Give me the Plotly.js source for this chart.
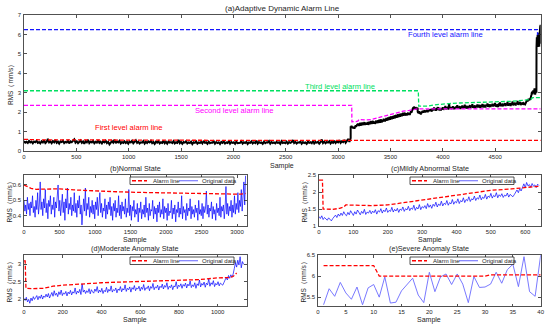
<!DOCTYPE html>
<html>
<head>
<meta charset="utf-8">
<script src="https://cdn.plot.ly/plotly-3.0.1.min.js"></script>
<style>html,body{margin:0;padding:0;background:#fff;}#chart{width:550px;height:331px;}</style>
</head>
<body>
<div id="chart"></div>
<script>
// ---------------- DATA ----------------
// (b) Normal State: RMS, one reading every 12 samples, samples 0..3120
const bStep = 12;
const bRMS = [
0.50,0.43,0.47,0.41,0.52,0.44,0.48,0.40,0.49,0.45,0.53,0.42,0.46,0.39,0.50,0.44,0.55,0.41,0.47,0.62,
0.44,0.49,0.40,0.51,0.45,0.57,0.42,0.48,0.38,0.50,0.46,0.53,0.41,0.47,0.44,0.52,0.39,0.49,0.45,0.56,
0.60,0.43,0.50,0.40,0.47,0.54,0.42,0.49,0.37,0.51,0.45,0.58,0.41,0.48,0.44,0.52,0.40,0.47,0.43,0.55,
0.42,0.48,0.39,0.50,0.45,0.53,0.41,0.47,0.34,0.46,0.51,0.43,0.58,0.40,0.48,0.44,0.52,0.39,0.46,0.42,
0.50,0.41,0.47,0.38,0.49,0.44,0.52,0.40,0.46,0.55,0.42,0.48,0.39,0.45,0.43,0.51,0.38,0.47,0.41,0.49,
0.44,0.52,0.40,0.46,0.37,0.48,0.43,0.50,0.39,0.45,0.42,0.53,0.40,0.47,0.38,0.49,0.43,0.46,0.41,0.51,
0.39,0.45,0.42,0.57,0.40,0.47,0.37,0.46,0.43,0.50,0.39,0.44,0.41,0.48,0.36,0.45,0.42,0.49,0.38,0.44,
0.41,0.47,0.39,0.52,0.42,0.45,0.37,0.48,0.40,0.44,0.43,0.50,0.38,0.46,0.41,0.45,0.36,0.47,0.42,0.49,
0.39,0.44,0.41,0.51,0.38,0.46,0.42,0.45,0.37,0.48,0.40,0.43,0.42,0.50,0.38,0.45,0.41,0.47,0.36,0.44,
0.42,0.49,0.39,0.45,0.41,0.53,0.38,0.46,0.42,0.44,0.37,0.48,0.40,0.45,0.43,0.51,0.38,0.46,0.41,0.44,
0.39,0.47,0.42,0.45,0.37,0.50,0.41,0.44,0.40,0.48,0.38,0.46,0.42,0.45,0.56,0.41,0.47,0.39,0.45,0.43,
0.49,0.38,0.46,0.41,0.44,0.37,0.48,0.42,0.45,0.40,0.52,0.39,0.46,0.43,0.47,0.38,0.45,0.59,0.41,0.48,
0.40,0.46,0.43,0.50,0.39,0.47,0.42,0.53,0.41,0.48,0.44,0.55,0.42,0.50,0.46,0.57,0.43,0.52,0.62,0.47,0.66
];
const bAlarmSample = [0,20,60,100,170,300,500,700,1000,1300,1600,2000,2300,2600,2900,3050,3120];
const bAlarm       = [0.600,0.595,0.585,0.578,0.572,0.574,0.575,0.568,0.561,0.556,0.552,0.548,0.545,0.541,0.537,0.540,0.545];

// (c) Mildly Abnormal State: one reading every 4 samples, samples 0..640
const cStep = 4;
const cRMS = [
1.28,1.22,1.30,1.19,1.25,1.21,1.17,1.24,1.20,1.15,1.22,1.27,1.32,1.25,1.35,1.29,1.38,1.31,1.42,1.34,
1.30,1.40,1.33,1.45,1.36,1.31,1.42,1.35,1.47,1.38,1.33,1.43,1.37,1.49,1.34,1.41,1.38,1.46,1.36,1.44,
1.39,1.48,1.35,1.45,1.41,1.51,1.38,1.47,1.42,1.53,1.40,1.46,1.43,1.55,1.41,1.49,1.44,1.52,1.40,1.50,
1.46,1.56,1.43,1.51,1.47,1.58,1.45,1.53,1.49,1.61,1.46,1.55,1.50,1.63,1.48,1.57,1.53,1.60,1.51,1.66,
1.55,1.62,1.52,1.64,1.58,1.70,1.56,1.65,1.60,1.73,1.59,1.67,1.63,1.75,1.61,1.69,1.65,1.78,1.64,1.72,
1.68,1.80,1.66,1.75,1.71,1.83,1.69,1.78,1.74,1.86,1.72,1.80,1.77,1.88,1.75,1.83,1.79,1.91,1.77,1.85,
1.81,1.93,1.79,1.88,1.84,1.96,1.82,1.90,1.86,1.98,1.83,1.92,1.87,1.95,1.84,1.91,1.88,1.97,1.85,1.93,
1.90,1.86,1.92,1.99,2.06,1.98,2.10,2.03,2.15,2.24,2.12,2.28,2.18,2.22,2.14,2.25,2.17,2.21,2.13,2.23,2.19
];
const cAlarmSample = [0,10,12,40,60,72,78,150,200,300,400,500,560,600,620,640];
const cAlarm       = [2.35,2.35,1.50,1.49,1.52,1.56,1.62,1.60,1.62,1.77,1.91,2.05,2.09,2.12,2.14,2.17];

// (d) Moderate Anomaly State: one reading every 6 samples, samples 0..1134
const dStep = 6;
const dRMS = [
2.02,1.96,2.05,1.92,1.99,1.88,2.03,1.95,2.07,1.99,2.04,2.10,1.98,2.08,2.02,2.12,2.00,2.09,2.05,2.14,
2.06,2.16,2.03,2.12,2.19,2.08,2.24,2.11,2.17,2.07,2.21,2.13,2.26,2.10,2.18,2.14,2.22,2.09,2.20,2.15,
2.25,2.12,2.21,2.17,2.32,2.14,2.23,2.18,2.28,2.13,2.44,2.20,2.26,2.16,2.24,2.19,2.30,2.15,2.27,2.21,
2.17,2.29,2.22,2.36,2.18,2.26,2.20,2.31,2.16,2.25,2.21,2.34,2.19,2.28,2.23,2.38,2.20,2.27,2.24,2.32,
2.18,2.29,2.25,2.36,2.21,2.30,2.26,2.41,2.22,2.31,2.27,2.35,2.20,2.33,2.28,2.39,2.24,2.32,2.29,2.37,
2.23,2.34,2.28,2.42,2.25,2.33,2.30,2.38,2.24,2.36,2.31,2.45,2.27,2.35,2.32,2.40,2.26,2.37,2.33,2.43,
2.29,2.39,2.34,2.47,2.28,2.37,2.33,2.41,2.27,2.38,2.35,2.50,2.30,2.40,2.36,2.44,2.31,2.42,2.37,2.46,
2.32,2.43,2.38,2.52,2.33,2.41,2.36,2.47,2.31,2.44,2.39,2.55,2.35,2.45,2.40,2.49,2.34,2.46,2.41,2.58,
2.37,2.47,2.42,2.53,2.36,2.45,2.41,2.50,2.38,2.46,2.43,2.40,2.47,2.56,2.62,2.55,2.68,2.60,2.70,2.63,
2.72,2.88,3.05,2.92,3.12,2.98,3.22,2.90,3.08,3.00
];
const dAlarmSample = [0,6,10,40,100,150,200,300,400,500,600,700,800,900,1000,1060,1080,1098];
const dAlarm       = [3.10,3.10,2.31,2.30,2.31,2.37,2.40,2.44,2.47,2.49,2.51,2.52,2.53,2.56,2.61,2.62,2.65,2.75];

// (e) Severe Anomaly State: samples 1..40
const eSample = [1,2,3,4,5,6,7,8,9,10,11,12,13,14,15,16,17,18,19,20,21,22,23,24,25,26,27,28,29,30,31,32,33,34,35,36,37,38,39,40];
const eRMS = [5.32,5.70,5.52,5.85,5.60,5.45,5.74,5.32,5.72,5.80,5.50,5.98,5.36,5.38,5.65,5.81,5.95,5.55,5.37,6.09,
              5.63,5.98,6.05,5.80,6.05,5.81,5.37,5.99,5.73,5.74,5.81,6.09,5.83,6.15,6.28,5.75,6.46,5.63,5.52,6.50];
const eAlarmSample = [1,10,11,30,31,40];
const eAlarm       = [6.25,6.25,6.00,6.00,6.03,6.03];

// (a) segment start samples in the whole record and its end
const segStart = [0, 3120, 3760, 4894];
const recordEnd = 4935;

const levelNames = ['First level alarm line','Second level alarm line','Third level alarm line','Fourth level alarm line'];
const panelTitles = ['(a)Adaptive Dynamic Alarm Line','(b)Normal State','(c)Mildly Abnormal State','(d)Moderate Anomaly State','(e)Severe Anomaly State'];
const xTickVals = {
  a:[0,500,1000,1500,2000,2500,3000,3500,4000,4500],
  b:[0,500,1000,1500,2000,2500,3000],
  c:[0,100,200,300,400,500,600],
  d:[0,200,400,600,800,1000],
  e:[0,5,10,15,20,25,30,35,40]
};
const yTickVals = {
  a:[0,1,2,3,4,5,6,7],
  b:[0.4,0.5,0.6],
  c:[1,1.5,2,2.5],
  d:[2,2.5,3],
  e:[5.5,6,6.5]
};

// ---------------- BUILD ----------------
const W = 550, H = 331;
const px = v => v / W, py = v => 1 - v / H;
const FONT = '"Liberation Sans Narrow", "Liberation Sans", Arial, sans-serif';
const AX = '#262626';

const idx = (n, step) => Array.from({length:n}, (_, i) => i * step);
const bX = idx(bRMS.length, bStep), cX = idx(cRMS.length, cStep), dX = idx(dRMS.length, dStep);

const shift = (arr, o) => arr.map(v => v + o);
const aX = [].concat(bX, shift(cX, segStart[1]), shift(dX, segStart[2]), shift(eSample, segStart[3]));
const aY = [].concat(bRMS, cRMS, dRMS, eRMS);

function levelLine(sam, val, off) {
  const x = [], y = [];
  if (off > 0) { x.push(0); y.push(val[0]); }
  sam.forEach((s, i) => { x.push(s + off); y.push(val[i]); });
  x.push(recordEnd); y.push(val[val.length - 1]);
  return {x, y};
}
const RED = '#FF0000', MAG = '#FF00FF', GRN = '#00E060', BLU = '#1414FF', DBLUE = '#0000FF';
const L1 = levelLine(bAlarmSample, bAlarm, segStart[0]);
const L2 = levelLine(cAlarmSample, cAlarm, segStart[1]);
const L3 = levelLine(dAlarmSample, dAlarm, segStart[2]);
const L4 = levelLine(eAlarmSample, eAlarm, segStart[3]);

const dash = '4px,2px';
const traces = [
  {x:aX, y:aY, xaxis:'x', yaxis:'y', mode:'lines', line:{color:'#000', width:2}},
  {x:L1.x, y:L1.y, xaxis:'x', yaxis:'y', mode:'lines', line:{color:RED, width:1.3, dash:dash}},
  {x:L2.x, y:L2.y, xaxis:'x', yaxis:'y', mode:'lines', line:{color:MAG, width:1.3, dash:dash}},
  {x:L3.x, y:L3.y, xaxis:'x', yaxis:'y', mode:'lines', line:{color:GRN, width:1.3, dash:dash}},
  {x:L4.x, y:L4.y, xaxis:'x', yaxis:'y', mode:'lines', line:{color:BLU, width:1.3, dash:dash}},

  {x:bX, y:bRMS, xaxis:'x2', yaxis:'y2', mode:'lines', line:{color:DBLUE, width:0.7}},
  {x:bAlarmSample, y:bAlarm, xaxis:'x2', yaxis:'y2', mode:'lines', line:{color:RED, width:1.3, dash:dash}},
  {x:cX, y:cRMS, xaxis:'x3', yaxis:'y3', mode:'lines', line:{color:DBLUE, width:0.7}},
  {x:cAlarmSample, y:cAlarm, xaxis:'x3', yaxis:'y3', mode:'lines', line:{color:RED, width:1.3, dash:dash}},
  {x:dX, y:dRMS, xaxis:'x4', yaxis:'y4', mode:'lines', line:{color:DBLUE, width:0.7}},
  {x:dAlarmSample, y:dAlarm, xaxis:'x4', yaxis:'y4', mode:'lines', line:{color:RED, width:1.3, dash:dash}},
  {x:eSample, y:eRMS, xaxis:'x5', yaxis:'y5', mode:'lines', line:{color:'#6A6AFF', width:0.9}},
  {x:eAlarmSample, y:eAlarm, xaxis:'x5', yaxis:'y5', mode:'lines', line:{color:RED, width:1.3, dash:dash}}
].map(t => Object.assign(t, {showlegend:false, hoverinfo:'skip'}));

// panel boxes in pixels: [left, right, top, bottom]
const box = {
  a:[24, 540.7, 15, 151],
  b:[24, 246.7, 175, 226],
  c:[319, 540.7, 175, 226],
  d:[24, 246.7, 255, 306],
  e:[318, 540.7, 255, 306]
};
const ranges = {
  a:{x:[0, recordEnd], y:[0,7]},
  b:{x:[0, 3136], y:[0.333,0.665]},
  c:{x:[0, 645], y:[1,2.5]},
  d:{x:[0, 1150], y:[1.8,3.27]},
  e:{x:[0, 40], y:[5.29,6.5]}
};
const keys = ['a','b','c','d','e'];
const layout = {
  width:W, height:H, margin:{l:0,r:0,t:0,b:0},
  paper_bgcolor:'#fff', plot_bgcolor:'#fff',
  font:{family:FONT, size:6, color:AX},
  showlegend:false,
  annotations:[], shapes:[]
};
keys.forEach((k, i) => {
  const n = i === 0 ? '' : String(i + 1);
  const [l, r, t, b] = box[k];
  const common = {
    showgrid:false, zeroline:false, showline:true, mirror:'ticks',
    linecolor:AX, linewidth:0.8, ticks:'inside', ticklen: k === 'a' ? 3 : 2.5,
    tickcolor:AX, tickwidth:0.8, tickfont:{family:FONT, size:6, color:AX},
    fixedrange:true
  };
  layout['xaxis' + n] = Object.assign({}, common, {
    domain:[px(l), px(r)], range:ranges[k].x, anchor:'y' + n,
    tickmode:'array', tickvals:xTickVals[k], ticklabelstandoff:0
  });
  layout['yaxis' + n] = Object.assign({}, common, {
    domain:[py(b), py(t)], range:ranges[k].y, anchor:'x' + n,
    tickmode:'array', tickvals:yTickVals[k], ticklabelstandoff:1
  });
  // panel title
  layout.annotations.push({xref:'paper', yref:'paper', x:px((l + r) / 2), y:py(t), xanchor:'center', yanchor:'bottom',
    text:panelTitles[i], showarrow:false, font:{family:FONT, size:k === 'a' ? 8 : 7.2, color:AX}});
  // x axis title
  layout.annotations.push({xref:'paper', yref:'paper', x:px((l + r) / 2), y:py(b + (k === 'a' ? 14.5 : 13.8)), xanchor:'center', yanchor:'middle',
    text:'Sample', showarrow:false, font:{family:FONT, size:7, color:AX}});
  // y axis title
  layout.annotations.push({xref:'paper', yref:'paper', x:px(l - (k === 'a' ? 13 : 15)), y:py((t + b) / 2), xanchor:'center', yanchor:'middle',
    textangle:-90, text:'RMS（mm/s）', showarrow:false, font:{family:FONT, size:6.5, color:AX}});
});

// level labels in panel (a)
const levelLabel = [
  {c:RED, x:129, y:127.7},
  {c:MAG, x:234.3, y:110},
  {c:GRN, x:339.7, y:86.7},
  {c:BLU, x:445, y:34.3}
];
levelLabel.forEach((o, i) => layout.annotations.push({xref:'paper', yref:'paper', x:px(o.x), y:py(o.y),
  xanchor:'center', yanchor:'middle', text:levelNames[i], showarrow:false, font:{family:FONT, size:7.6, color:o.c}}));

// small legends in panels b-e
function smallLegend(x0, y0) {
  const w = 104, h = 7.5;
  layout.shapes.push({type:'rect', xref:'paper', yref:'paper', x0:px(x0), x1:px(x0 + w), y0:py(y0 + h), y1:py(y0),
    line:{color:AX, width:0.8}, fillcolor:'#fff'});
  const ym = y0 + h / 2;
  layout.shapes.push({type:'line', xref:'paper', yref:'paper', x0:px(x0 + 2), x1:px(x0 + 17), y0:py(ym), y1:py(ym),
    line:{color:RED, width:1.3, dash:dash}});
  layout.shapes.push({type:'line', xref:'paper', yref:'paper', x0:px(x0 + 49), x1:px(x0 + 68), y0:py(ym), y1:py(ym),
    line:{color:'#5050FF', width:0.9}});
  layout.annotations.push({xref:'paper', yref:'paper', x:px(x0 + 21), y:py(ym), xanchor:'left', yanchor:'middle',
    text:'Alarm line', showarrow:false, font:{family:FONT, size:6, color:AX}});
  layout.annotations.push({xref:'paper', yref:'paper', x:px(x0 + 70), y:py(ym), xanchor:'left', yanchor:'middle',
    text:'Original data', showarrow:false, font:{family:FONT, size:6, color:AX}});
}
smallLegend(130, 177);
smallLegend(410, 177);
smallLegend(130, 257);
smallLegend(410, 257);

Plotly.newPlot('chart', traces, layout, {staticPlot:true, displayModeBar:false});
</script>
</body>
</html>
